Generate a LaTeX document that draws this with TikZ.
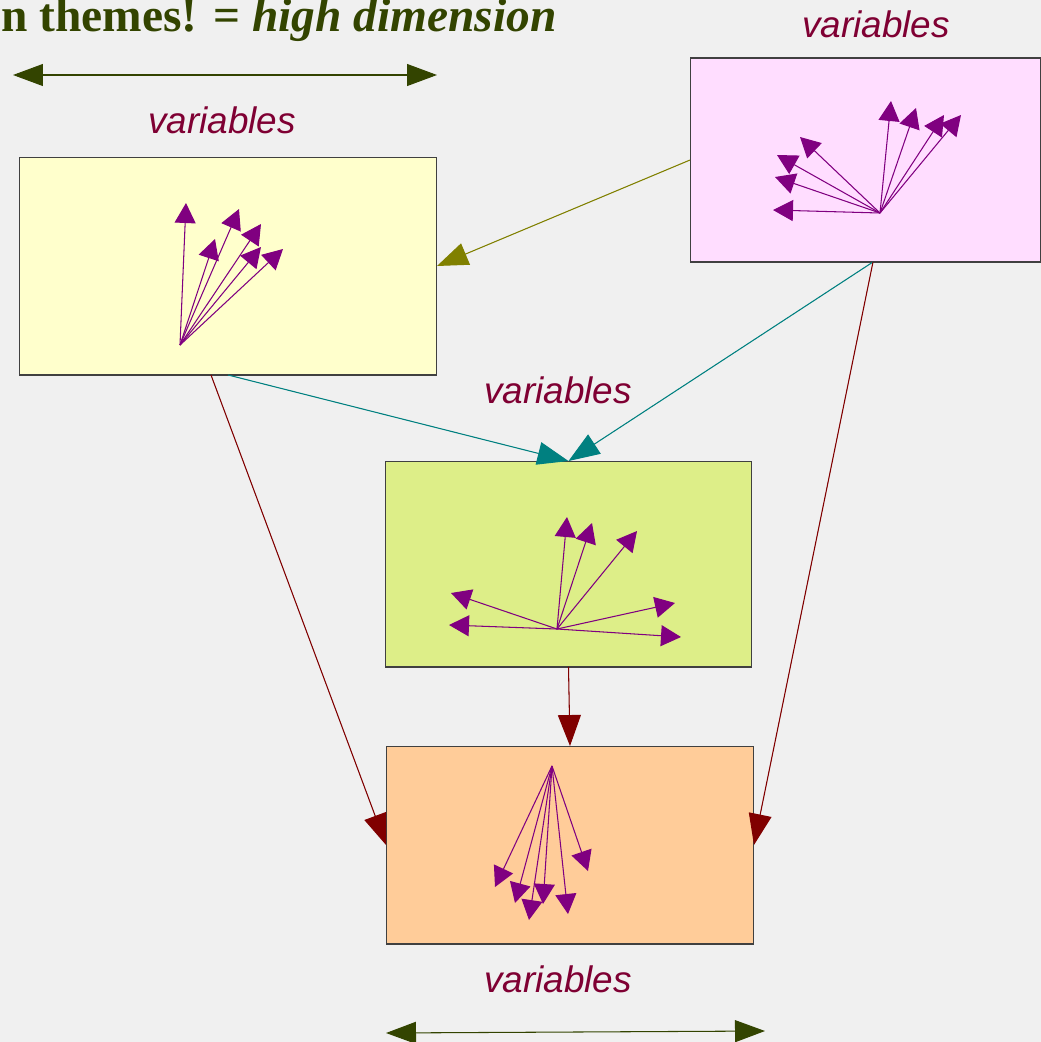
\documentclass[tikz,border=0pt]{standalone}
\usepackage{fontspec}
\setmainfont{Liberation Serif}
\newfontfamily\varfont{Liberation Sans}
\usetikzlibrary{arrows.meta}
\usepackage{xcolor}
\definecolor{bgGray}{HTML}{F0F0F0}
\definecolor{fillYellow}{HTML}{FFFFCC}
\definecolor{fillPink}{HTML}{FFDDFF}
\definecolor{fillGreen}{HTML}{DDEE88}
\definecolor{fillOrange}{HTML}{FFCC99}
\definecolor{vecPurple}{HTML}{800080}
\definecolor{linkOlive}{HTML}{808000}
\definecolor{linkTeal}{HTML}{008080}
\definecolor{linkRed}{HTML}{800000}
\definecolor{varRed}{HTML}{7F0033}
\definecolor{titleGreen}{HTML}{334400}

\begin{document}
\begin{tikzpicture}[x=0.02cm, y=-0.02cm,
  box/.style={rectangle, draw=black!75, line width=0.6pt, inner sep=0pt, outer sep=0pt},
  vec/.style={draw=vecPurple, line width=0.6pt, -{Triangle[length=0.4cm,width=0.42cm]}},
  link/.style={line width=0.6pt, -{Triangle[length=0.62cm,width=0.46cm]}},
  dimarrow/.style={draw=titleGreen, line width=0.6pt, {Triangle[length=0.6cm,width=0.44cm]}-{Triangle[length=0.6cm,width=0.44cm]}},
  varlabel/.style={anchor=base, text=varRed, font=\varfont\itshape\fontsize{21}{24}\selectfont}]
  \fill[bgGray] (0,0) rectangle (1041,1042);
  \useasboundingbox (0,0) rectangle (1041,1042);

  % title and dimension arrows
  \node (title) [anchor=base east, inner sep=0pt, text=titleGreen, font=\bfseries\fontsize{27}{32}\selectfont] at (557,31)
    {n themes! = \textit{high dimension}};
  \coordinate (topl) at (13,75);
  \coordinate (topr) at (437,75);
  \draw[dimarrow] (topl) -- (topr);
  \coordinate (botl) at (386,1033);
  \coordinate (botr) at (765,1031);
  \draw[dimarrow] (botl) -- (botr);

  % boxes
  \node (yellow) [box, fill=fillYellow, minimum width=8.36cm, minimum height=4.36cm] at (228,266) {};
  \node (pink) [box, fill=fillPink, minimum width=7.02cm, minimum height=4.08cm] at (865.5,160) {};
  \node (green) [box, fill=fillGreen, minimum width=7.34cm, minimum height=4.12cm] at (568.5,564) {};
  \node (orange) [box, fill=fillOrange, minimum width=7.36cm, minimum height=3.96cm] at (570,845) {};

  % labels
  \node (yvar) [varlabel] at (222,133) {variables};
  \node (pvar) [varlabel] at (876,37) {variables};
  \node (gvar) [varlabel] at (558,403) {variables};
  \node (ovar) [varlabel] at (558,992) {variables};

  % vectors in each box
  \coordinate (yo) at (180,345);
  \foreach \x/\y [count=\i] in {186/203,215/239,239/209,261/224,261/247,283/249}
    {\coordinate (y\i) at (\x,\y); \draw[vec] (yo) -- (y\i);}
  \coordinate (po) at (880,213);
  \foreach \x/\y [count=\i] in {773/210,775/177,777/155,800/137,891/101,916/108,944/115,961/115}
    {\coordinate (p\i) at (\x,\y); \draw[vec] (po) -- (p\i);}
  \coordinate (go) at (557,629);
  \foreach \x/\y [count=\i] in {567/517,592/523,637/531,451/593,449/625,675/603,681/637}
    {\coordinate (g\i) at (\x,\y); \draw[vec] (go) -- (g\i);}
  \coordinate (oo) at (552,766);
  \foreach \x/\y [count=\i] in {495/887,515/903,529/920,543/904,568/914,588/871}
    {\coordinate (o\i) at (\x,\y); \draw[vec] (oo) -- (o\i);}

  % links between boxes
  \draw[link, draw=linkOlive, fill=linkOlive] (pink.west) -- (yellow.east);
  \draw[link, draw=linkTeal, fill=linkTeal] (yellow.south) -- (green.north);
  \draw[link, draw=linkTeal, fill=linkTeal] ([xshift=0.15cm]pink.south) -- (green.north);
  \draw[link, draw=linkRed, fill=linkRed] ([xshift=-0.34cm]yellow.south) -- (orange.west);
  \draw[link, draw=linkRed, fill=linkRed] ([xshift=0.15cm]pink.south) -- (orange.east);
  \draw[link, draw=linkRed, fill=linkRed] (green.south) -- (orange.north);
\end{tikzpicture}
\end{document}
